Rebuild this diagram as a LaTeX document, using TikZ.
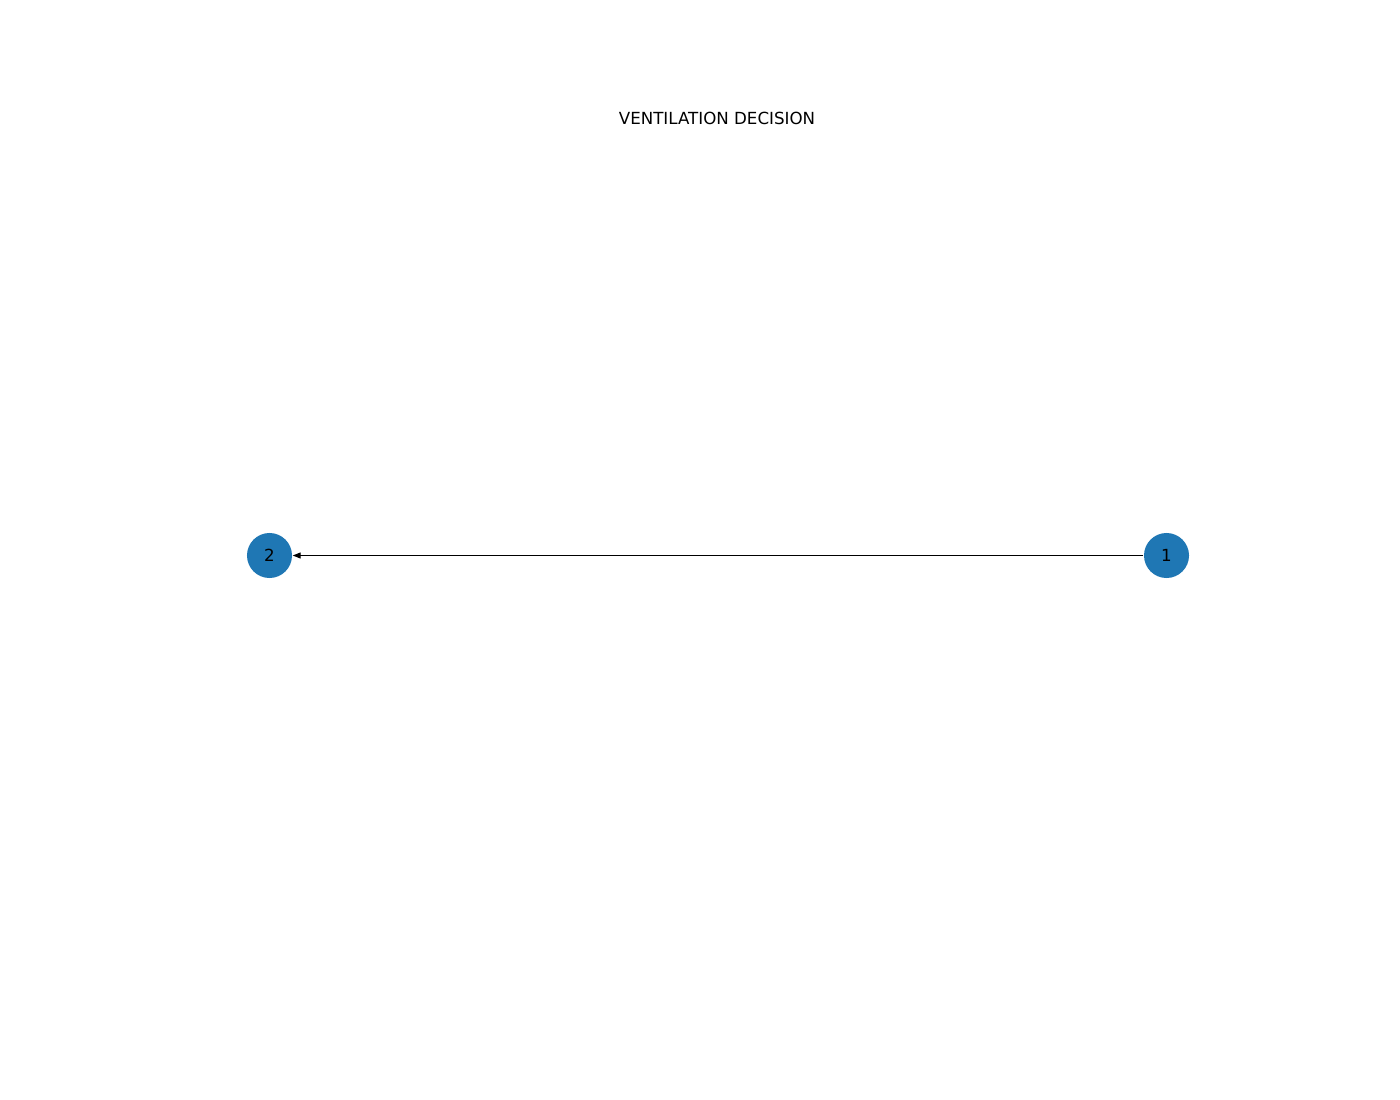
\documentclass[tikz,border=0pt]{standalone}
\usepackage{fontspec}
\setmainfont{DejaVu Sans}
\usetikzlibrary{arrows.meta}
\begin{document}
\begin{tikzpicture}[x=0.01cm,y=-0.01cm,
  gnode/.style={circle,fill={rgb,255:red,31;green,119;blue,180},minimum size=0.45cm,inner sep=0pt,font=\fontsize{4.74pt}{5pt}\selectfont},
  edge/.style={line width=0.3pt,-{Stealth[length=0.08cm,width=0.06cm,inset=0pt]}}]
\useasboundingbox[fill=white] (0,0) rectangle (1400,1100);
\node[font=\fontsize{4.74pt}{5pt}\selectfont] (title) at (717,118) {VENTILATION DECISION};
\node[gnode] (n2) at (269.5,555.5) {2};
\node[gnode] (n1) at (1166.5,555.5) {1};
\draw[edge] (n1) -- (n2);
\end{tikzpicture}
\end{document}
